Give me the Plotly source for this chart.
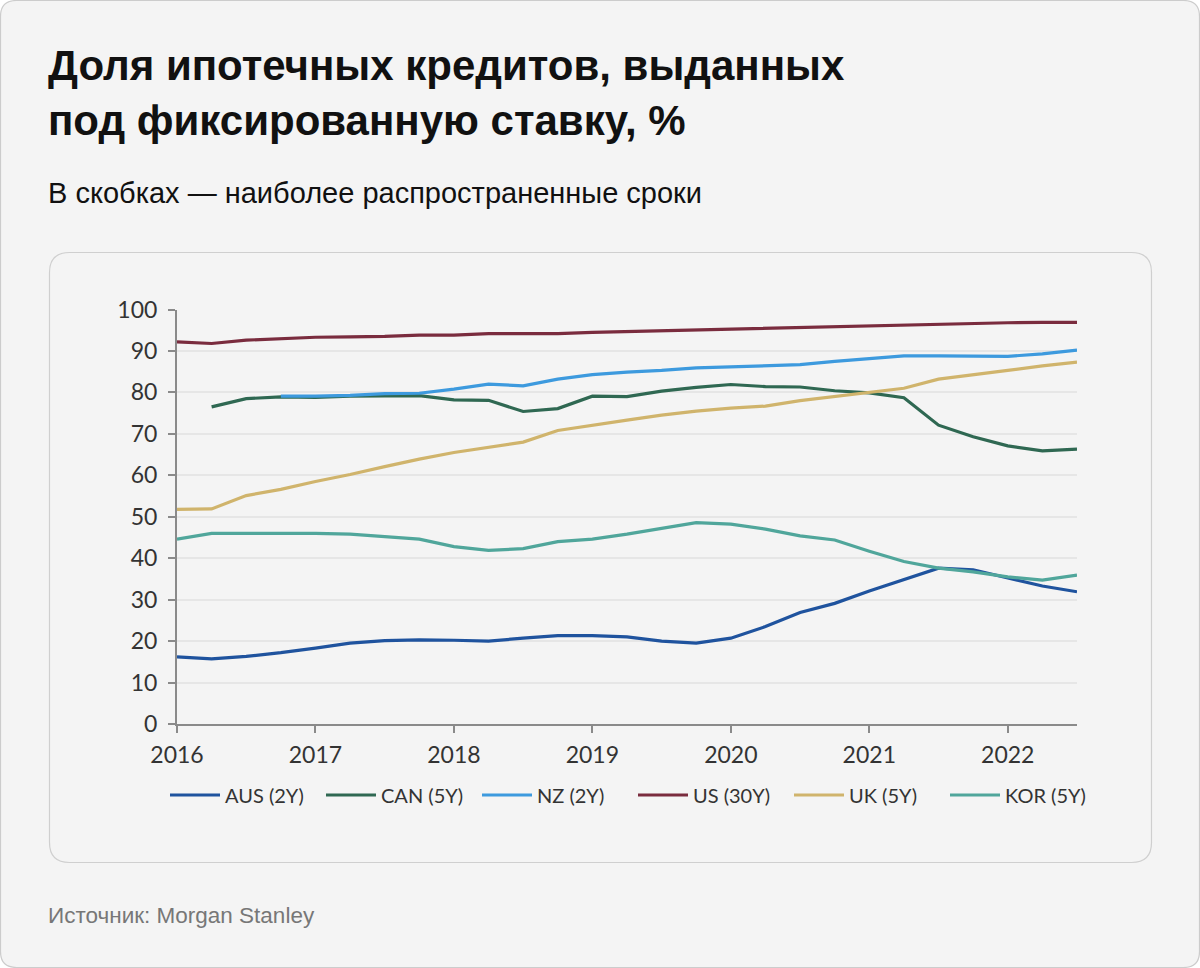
import plotly.graph_objects as go

W, H = 1200, 968

quarters = [2016.0, 2016.25, 2016.5, 2016.75, 2017.0, 2017.25, 2017.5, 2017.75,
            2018.0, 2018.25, 2018.5, 2018.75, 2019.0, 2019.25, 2019.5, 2019.75,
            2020.0, 2020.25, 2020.5, 2020.75, 2021.0, 2021.25, 2021.5, 2021.75,
            2022.0, 2022.25, 2022.5]

aus = [16.2, 15.7, 16.3, 17.2, 18.3, 19.5, 20.1, 20.3, 20.2, 20.0, 20.7, 21.3,
       21.3, 21.0, 20.0, 19.5, 20.7, 23.5, 26.9, 29.1, 32.1, 34.9, 37.6, 37.2,
       35.3, 33.3, 31.9]
can = [None, 76.5, 78.5, 78.9, 78.8, 79.1, 79.2, 79.2, 78.2, 78.1, 75.4, 76.1,
       79.1, 79.0, 80.3, 81.2, 81.9, 81.4, 81.3, 80.4, 79.9, 78.7, 72.1, 69.3,
       67.1, 65.9, 66.3]
nz = [None, None, None, 79.1, 79.1, 79.3, 79.7, 79.8, 80.8, 82.0, 81.6, 83.2,
      84.3, 84.9, 85.3, 85.9, 86.2, 86.5, 86.7, 87.5, 88.1, 88.8, 88.8, 88.7,
      88.7, 89.3, 90.2]
us = [92.2, 91.8, 92.6, 93.0, 93.3, 93.4, 93.5, 93.8, 93.8, 94.2, 94.2, 94.2,
      94.5, 94.7, 94.9, 95.1, 95.2, 95.5, 95.7, 95.9, 96.1, 96.2, 96.5, 96.6,
      96.8, 96.9, 96.9]
uk = [51.8, 51.9, 55.1, 56.6, 58.5, 60.2, 62.1, 63.9, 65.5, 66.7, 68.0, 70.8,
      72.1, 73.3, 74.5, 75.5, 76.2, 76.7, 78.0, 79.0, 80.0, 81.0, 83.2, 84.2,
      85.3, 86.4, 87.3]
kor = [44.6, 46.0, 46.0, 46.0, 46.0, 45.8, 45.2, 44.6, 42.8, 41.9, 42.3, 44.0,
       44.6, 45.8, 47.2, 48.6, 48.2, 47.0, 45.4, 44.4, 41.7, 39.2, 37.6, 36.7,
       35.5, 34.7, 35.9]

series_names = ["AUS (2Y)", "CAN (5Y)", "NZ (2Y)", "US (30Y)", "UK (5Y)", "KOR (5Y)"]
series_values = [aus, can, nz, us, uk, kor]
series_colors = ["#1f539e", "#2f6852", "#3d9ade", "#7a2c3e", "#d0b46c", "#50a69b"]

year_ticks = [2016, 2017, 2018, 2019, 2020, 2021, 2022]
y_ticks = [0, 10, 20, 30, 40, 50, 60, 70, 80, 90, 100]

title_text = "Доля ипотечных кредитов, выданных<br>под фиксированную ставку, %"
subtitle_text = "В скобках — наиболее распространенные сроки"
source_text = "Источник: Morgan Stanley"


def px_x(x):
    return x / W


def px_y(y):
    return 1 - y / H


def rounded_path(x0, y0, x1, y1, r):
    pts = [
        ("M", x0 + r, y0), ("L", x1 - r, y0), ("Q", x1, y0, x1, y0 + r),
        ("L", x1, y1 - r), ("Q", x1, y1, x1 - r, y1), ("L", x0 + r, y1),
        ("Q", x0, y1, x0, y1 - r), ("L", x0, y0 + r), ("Q", x0, y0, x0 + r, y0),
    ]
    out = []
    for p in pts:
        cmd = p[0]
        coords = p[1:]
        s = []
        for i in range(0, len(coords), 2):
            s.append(f"{px_x(coords[i]):.5f},{px_y(coords[i+1]):.5f}")
        out.append(cmd + " ".join(s))
    return " ".join(out) + " Z"


fig = go.Figure()
for name, vals, col in zip(series_names, series_values, series_colors):
    fig.add_trace(go.Scatter(
        x=quarters, y=vals, name=name, mode="lines",
        line=dict(color=col, width=3.2),
        connectgaps=False,
    ))

tick_font = dict(family="Lato, 'Open Sans', sans-serif", size=23, color="#333333")

fig.update_layout(
    width=W, height=H,
    margin=dict(l=0, r=0, t=0, b=0, autoexpand=False),
    paper_bgcolor="#ffffff",
    plot_bgcolor="rgba(0,0,0,0)",
    showlegend=True,
    legend=dict(
        orientation="h", x=px_x(165), xanchor="left", y=px_y(795), yanchor="middle",
        font=dict(family="Lato, 'Open Sans', sans-serif", size=20, color="#333333"),
        bgcolor="rgba(0,0,0,0)", traceorder="normal",
        itemwidth=50, entrywidth=91, entrywidthmode="pixels",
    ),
    xaxis=dict(
        domain=[px_x(177), px_x(1077)],
        range=[2016, 2022.5],
        tickvals=year_ticks, ticktext=[str(v) for v in year_ticks],
        showgrid=False, zeroline=False, automargin=False,
        showline=True, linecolor="#8a8a8a", linewidth=2,
        ticks="outside", ticklen=7, tickwidth=2, tickcolor="#8a8a8a",
        tickfont=tick_font, ticklabelstandoff=2,
    ),
    yaxis=dict(
        domain=[px_y(724), px_y(309.5)],
        range=[0, 100],
        tickvals=y_ticks, automargin=False,
        showgrid=True, gridcolor="#e6e6e6", gridwidth=1.5, zeroline=False,
        showline=True, linecolor="#8a8a8a", linewidth=2,
        ticks="outside", ticklen=7, tickwidth=2, tickcolor="#8a8a8a",
        tickfont=tick_font, ticklabelstandoff=6,
    ),
    shapes=[
        dict(type="path", xref="paper", yref="paper", layer="below",
             path=rounded_path(0.5, 0.5, 1199.5, 967.5, 16),
             fillcolor="#f4f4f4", line=dict(color="#cccccc", width=1.2)),
        dict(type="path", xref="paper", yref="paper", layer="below",
             path=rounded_path(49.5, 252.5, 1151.5, 862.5, 20),
             fillcolor="#f4f4f4", line=dict(color="#cfcfcf", width=1.2)),
    ],
    annotations=[
        dict(text="<b>" + title_text.replace("<br>", "</b><br><b>") + "</b>",
             xref="paper", yref="paper", x=px_x(46), y=px_y(40),
             xanchor="left", yanchor="top", align="left", showarrow=False,
             font=dict(family="'Liberation Sans', Arial, sans-serif", size=42, color="#111111")),
        dict(text=subtitle_text,
             xref="paper", yref="paper", x=px_x(46), y=px_y(211),
             xanchor="left", yanchor="bottom", align="left", showarrow=False,
             font=dict(family="'Liberation Sans', Arial, sans-serif", size=29, color="#111111")),
        dict(text=source_text,
             xref="paper", yref="paper", x=px_x(46), y=px_y(930),
             xanchor="left", yanchor="bottom", align="left", showarrow=False,
             font=dict(family="'Liberation Sans', Arial, sans-serif", size=22.5, color="#777777")),
    ],
)

fig.write_html("out.html", config={"displayModeBar": False},
               post_script="document.body.style.margin='0';")
